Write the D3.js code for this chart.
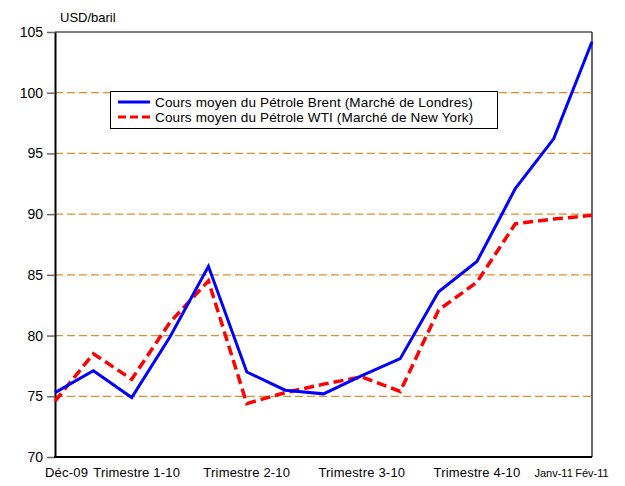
<!DOCTYPE html>
<html>
<head>
<meta charset="utf-8">
<script src="https://cdn.jsdelivr.net/npm/d3@7"></script>
<style>
  body { margin: 0; background: #fff; }
  text { font-family: "Liberation Sans", Arial, sans-serif; }
</style>
</head>
<body>
<script>
// monthly average oil prices, Dec-09 .. Feb-11
var months = ['Déc-09', 'Janv-10', 'Fév-10', 'Mars-10', 'Avr-10', 'Mai-10', 'Juin-10',
  'Juil-10', 'Août-10', 'Sept-10', 'Oct-10', 'Nov-10', 'Déc-10', 'Janv-11', 'Fév-11'];
var brent = [75.3, 77.1, 74.9, 79.9, 85.7, 77.0, 75.5, 75.2, 76.7, 78.1, 83.6, 86.1, 92.1, 96.2, 104.2];
var wti = [74.6, 78.5, 76.4, 81.1, 84.5, 74.4, 75.3, 76.0, 76.6, 75.4, 82.1, 84.4, 89.2, 89.6, 89.9];
var xLabels = [
  {i: 0, t: 'Déc-09'}, {i: 2, t: 'Trimestre 1-10'}, {i: 5, t: 'Trimestre 2-10'},
  {i: 8, t: 'Trimestre 3-10'}, {i: 11, t: 'Trimestre 4-10'},
  {i: 13, t: 'Janv-11'}, {i: 14, t: 'Fév-11'}
];
var yTicks = [70, 75, 80, 85, 90, 95, 100, 105];
var legendNames = ['Cours moyen du Pétrole Brent (Marché de Londres)',
  'Cours moyen du Pétrole WTI (Marché de New York)'];

var W = 625, H = 486;
// note: "top" is taken by window.top, so use plot* names
var plotL = 55, plotR = 592, plotT = 32, plotB = 457;

var svg = d3.select('body').append('svg')
  .attr('width', W)
  .attr('height', H);

var x = d3.scaleLinear().domain([0, months.length - 1]).range([plotL, plotR]);
var y = d3.scaleLinear().domain([70, 105]).range([plotB, plotT]);

// gridlines
svg.append('g').selectAll('line')
  .data(yTicks.filter(function(d) { return d > 70 && d < 105; }))
  .enter().append('line')
  .attr('x1', plotL).attr('x2', plotR)
  .attr('y1', function(d) { return y(d); })
  .attr('y2', function(d) { return y(d); })
  .attr('stroke', '#dc8f2a')
  .attr('stroke-width', 1.2)
  .attr('stroke-dasharray', '8,4');

// frame
svg.append('line').attr('x1', plotL).attr('x2', plotR).attr('y1', plotT).attr('y2', plotT)
  .attr('stroke', '#000').attr('stroke-width', 1.2);
svg.append('line').attr('x1', plotR).attr('x2', plotR).attr('y1', plotT).attr('y2', plotB)
  .attr('stroke', '#000').attr('stroke-width', 1.2);

// y axis
var yAxis = svg.append('g')
  .attr('transform', 'translate(' + plotL + ',0)')
  .call(d3.axisLeft(y).tickValues(yTicks).tickSize(8).tickPadding(4).tickSizeOuter(0));
yAxis.select('.domain').attr('stroke', '#000').attr('stroke-width', 2);
yAxis.selectAll('.tick line').attr('stroke', '#666').attr('stroke-width', 1.5);
yAxis.selectAll('.tick text')
  .attr('fill', '#000')
  .style('font-family', '"Liberation Sans", Arial, sans-serif')
  .style('font-size', '14px');

// x axis line
svg.append('line').attr('x1', plotL - 1).attr('x2', plotR).attr('y1', plotB).attr('y2', plotB)
  .attr('stroke', '#000').attr('stroke-width', 2);

// x labels (first two nudged so they don't run into each other)
svg.append('g').selectAll('text')
  .data(xLabels)
  .enter().append('text')
  .attr('x', function(d) {
    if (d.i === 0) return x(d.i) - 10;
    if (d.i === 2) return x(d.i) + 5;
    return x(d.i);
  })
  .attr('y', 477)
  .attr('text-anchor', function(d) { return d.i === 0 ? 'start' : 'middle'; })
  .attr('font-size', function(d) { return d.i >= 13 ? 11 : 13; })
  .attr('letter-spacing', function(d) { return d.i >= 13 ? 0 : 0.2; })
  .text(function(d) { return d.t; });

svg.append('text').text('USD/baril')
  .attr('x', 60).attr('y', 22)
  .attr('font-size', 13);

// series
var line = d3.line()
  .x(function(d, i) { return x(i); })
  .y(function(d) { return y(d); });

svg.append('path').datum(wti)
  .attr('d', line)
  .attr('fill', 'none')
  .attr('stroke', '#ff0000')
  .attr('stroke-width', 3.5)
  .attr('stroke-dasharray', '10,5');

svg.append('path').datum(brent)
  .attr('d', line)
  .attr('fill', 'none')
  .attr('stroke', '#0000ff')
  .attr('stroke-width', 3);

// legend
var lg = svg.append('g');
lg.append('rect')
  .attr('x', 110.5).attr('y', 91.5)
  .attr('width', 387).attr('height', 37)
  .attr('fill', '#fff')
  .attr('stroke', '#000');
legendNames.forEach(function(name, k) {
  var ly = 102 + k * 15;
  lg.append('line')
    .attr('x1', 118).attr('x2', 150).attr('y1', ly).attr('y2', ly)
    .attr('stroke', k === 0 ? '#0000ff' : '#ff0000')
    .attr('stroke-width', 3)
    .attr('stroke-dasharray', k === 0 ? null : '8,4');
  lg.append('text')
    .attr('x', 155).attr('y', ly + 4.5)
    .attr('font-size', 13.5)
    .attr('letter-spacing', 0.15)
    .text(name);
});
</script>
</body>
</html>
